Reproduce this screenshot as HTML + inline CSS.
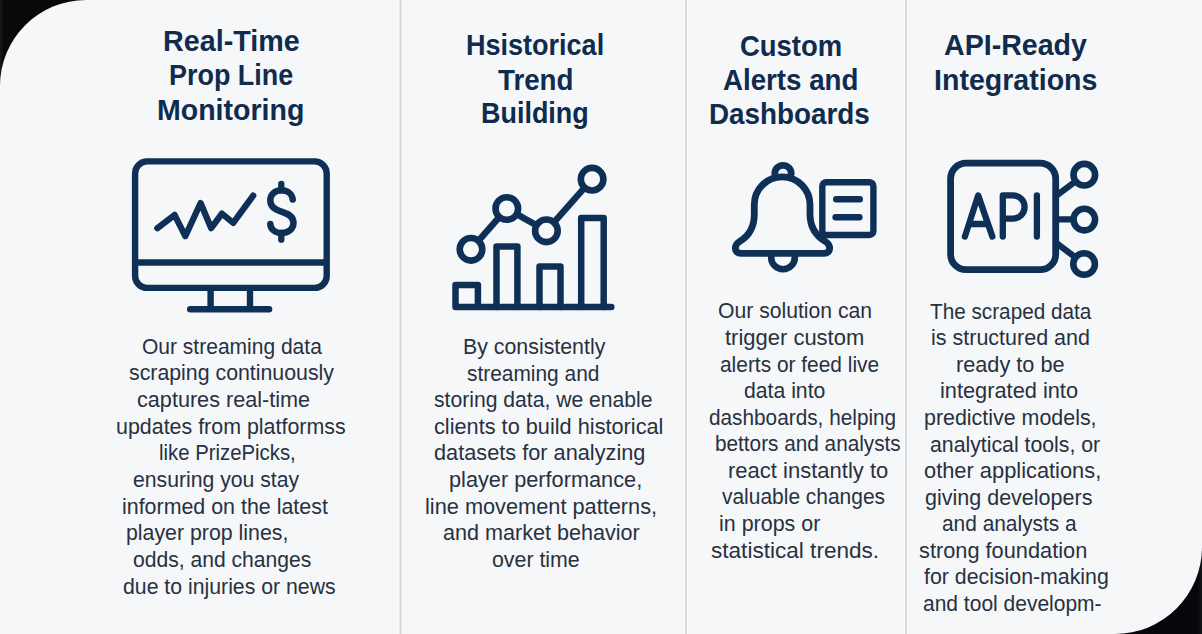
<!DOCTYPE html>
<html><head><meta charset="utf-8"><style>
html,body{margin:0;padding:0;background:#05070a;}
#w{position:relative;width:1202px;height:634px;overflow:hidden;background:linear-gradient(to right,#17191c 0px,#07090b 4px,#05070a 1197px,#101316 1202px);}
#p{position:absolute;left:0;top:0;width:1202px;height:634px;background:#f6f7f9;border-radius:86px 0 87px 0;}
.d{position:absolute;top:0;width:1px;height:634px;background:#d9dadd;}
.t{position:absolute;font-family:"Liberation Sans",sans-serif;line-height:1;white-space:pre;transform-origin:0 0;}
</style></head><body><div id="w"><div id="p"></div>
<div class="d" style="left:398px;background:#fbfbfc"></div><div class="d" style="left:399px;background:#e6e7e9"></div><div class="d" style="left:400px;background:#d5d6d8"></div><div class="d" style="left:401px;background:#e7e8ea"></div>
<div class="d" style="left:684px;background:#fbfcfc"></div><div class="d" style="left:685px;background:#dadbdd"></div><div class="d" style="left:686px;background:#d7d8da"></div><div class="d" style="left:687px;background:#fbfcfc"></div>
<div class="d" style="left:904px;background:#fbfcfc"></div><div class="d" style="left:905px;background:#dcdddf"></div><div class="d" style="left:906px;background:#d8d9db"></div><div class="d" style="left:907px;background:#fafbfb"></div>
<svg width="1202" height="634" viewBox="0 0 1202 634" style="position:absolute;left:0;top:0" fill="none" stroke="#0e3056" stroke-linecap="round" stroke-linejoin="round">
<!-- monitor -->
<rect x="135.1" y="161.4" width="191.6" height="126.5" rx="12" stroke-width="6.4"/>
<line x1="135.1" y1="262.4" x2="326.7" y2="262.4" stroke-width="6.5" stroke-linecap="butt"/>
<line x1="210.6" y1="288" x2="210.6" y2="309" stroke-width="6.4" stroke-linecap="butt"/>
<line x1="250" y1="288" x2="250" y2="309" stroke-width="6.4" stroke-linecap="butt"/>
<line x1="190.2" y1="309.3" x2="269.1" y2="309.3" stroke-width="6.4"/>
<polyline points="157.3,228.2 174.6,214.9 185.3,236.2 200.6,203 211.2,228.2 221.9,213.6 233.2,222.9 253.2,195.6" stroke-width="6.3"/>
<path d="M292.7,199.5 C292.2,193.8 287.3,190.3 281.3,190.3 C275,190.3 270.3,194.5 270.3,200.5 C270.3,207.5 276,210 281.3,211.6 C287.5,213.5 293.5,216 293.5,222.8 C293.5,229 288.3,233 281.3,233 C275,233 270.5,229 270.3,224" stroke-width="6.5"/>
<line x1="281.3" y1="184" x2="281.3" y2="190.3" stroke-width="6.3"/>
<line x1="281.3" y1="233" x2="281.3" y2="239.7" stroke-width="6.3"/>
<!-- chart -->
<path d="M477.9,307 L477.9,285.1 L455.5,285.1 L455.5,307 L611.3,307" stroke-width="6.5"/>
<path d="M496.5,307 L496.5,246.4 L517.4,246.4 L517.4,307" stroke-width="6.5"/>
<path d="M539.5,307 L539.5,266.4 L560.5,266.4 L560.5,307" stroke-width="6.5"/>
<path d="M581.2,307 L581.2,218 L603.7,218 L603.7,307" stroke-width="6.5"/>
<polyline points="471,249.3 506.8,208.5 546.4,230.8 592.1,179.2" stroke-width="6.5"/>
<g fill="#f6f7f9" stroke-width="6.6">
<circle cx="471" cy="249.3" r="11.3"/><circle cx="506.8" cy="208.5" r="11.3"/><circle cx="546.4" cy="230.8" r="11.3"/><circle cx="592.1" cy="179.2" r="11.3"/>
</g>
<!-- bell -->
<path d="M774.8,173.5 A8.2,8.2 0 0 1 791.2,173.5" stroke-width="6.8"/>
<path d="M754.3,204.7 A27.85,27.85 0 0 1 810,204.7 L810,214 C810,228 816,236 825.5,241.5 C831,245 831.5,253.4 824,253.4 L741,253.4 C733.5,253.4 734,245 739.5,241.5 C749,236 754.3,228 754.3,214 Z" stroke-width="6.8"/>
<path d="M771.2,253.4 L771.2,257.4 A11.8,11.8 0 0 0 794.8,257.4 L794.8,253.4" stroke-width="6.6"/>
<rect x="822.3" y="182.2" width="51.1" height="52.8" rx="4" stroke-width="6.4"/>
<line x1="836.2" y1="199.3" x2="859.8" y2="199.3" stroke-width="6.4"/>
<line x1="835.6" y1="217.3" x2="859.4" y2="217.3" stroke-width="6.4"/>
<!-- api -->
<rect x="950.6" y="163.2" width="105.1" height="106.5" rx="15.5" stroke-width="6.8"/>
<polyline points="964.9,236.6 978.2,195.4 992.4,236.6" stroke-width="6.3"/>
<line x1="970" y1="224" x2="987" y2="224" stroke-width="6.3"/>
<path d="M1002.8,236.6 L1002.8,195.4 L1013,195.4 A11.6,11.6 0 0 1 1013,218.6 L1002.8,218.6" stroke-width="6.3"/>
<line x1="1036.9" y1="195.4" x2="1036.9" y2="236.6" stroke-width="6.3"/>
<line x1="1056" y1="196" x2="1084.3" y2="174.7" stroke-width="6.3"/>
<line x1="1056" y1="219.4" x2="1084.3" y2="219.4" stroke-width="6.3"/>
<line x1="1056" y1="242.8" x2="1084.2" y2="264" stroke-width="6.3"/>
<g fill="#f6f7f9" stroke-width="6.6">
<circle cx="1084.3" cy="174.7" r="10.8"/><circle cx="1084.3" cy="219.6" r="10.8"/><circle cx="1084.1" cy="264" r="10.8"/>
</g>
</svg>
<div class="t" style="left:162.55px;top:26.00px;font-size:29.5px;font-weight:700;color:#0f2b4d;transform:scaleX(0.9731)">Real-Time</div>
<div class="t" style="left:169.47px;top:60.00px;font-size:29.5px;font-weight:700;color:#0f2b4d;transform:scaleX(0.9135)">Prop Line</div>
<div class="t" style="left:156.77px;top:95.00px;font-size:29.5px;font-weight:700;color:#0f2b4d;transform:scaleX(0.9670)">Monitoring</div>
<div class="t" style="left:465.77px;top:30.00px;font-size:29.5px;font-weight:700;color:#0f2b4d;transform:scaleX(0.9158)">Hsistorical</div>
<div class="t" style="left:497.67px;top:65.00px;font-size:29.5px;font-weight:700;color:#0f2b4d;transform:scaleX(0.9397)">Trend</div>
<div class="t" style="left:481.47px;top:98.00px;font-size:29.5px;font-weight:700;color:#0f2b4d;transform:scaleX(0.9132)">Building</div>
<div class="t" style="left:739.84px;top:31.00px;font-size:29.5px;font-weight:700;color:#0f2b4d;transform:scaleX(0.9302)">Custom</div>
<div class="t" style="left:723.20px;top:65.00px;font-size:29.5px;font-weight:700;color:#0f2b4d;transform:scaleX(0.9385)">Alerts and</div>
<div class="t" style="left:709.41px;top:99.00px;font-size:29.5px;font-weight:700;color:#0f2b4d;transform:scaleX(0.9429)">Dashboards</div>
<div class="t" style="left:943.77px;top:30.00px;font-size:29.5px;font-weight:700;color:#0f2b4d;transform:scaleX(0.9686)">API-Ready</div>
<div class="t" style="left:933.56px;top:65.00px;font-size:29.5px;font-weight:700;color:#0f2b4d;transform:scaleX(0.9680)">Integrations</div>
<div class="t" style="left:142.25px;top:336.00px;font-size:22px;font-weight:400;color:#273141;transform:scaleX(0.9549)">Our streaming data</div>
<div class="t" style="left:129.17px;top:362.00px;font-size:22px;font-weight:400;color:#273141;transform:scaleX(0.9689)">scraping continuously</div>
<div class="t" style="left:136.62px;top:389.00px;font-size:22px;font-weight:400;color:#273141;transform:scaleX(0.9833)">captures real-time</div>
<div class="t" style="left:116.24px;top:416.00px;font-size:22px;font-weight:400;color:#273141;transform:scaleX(0.9733)">updates from platformss</div>
<div class="t" style="left:159.41px;top:442.00px;font-size:22px;font-weight:400;color:#273141;transform:scaleX(0.9246)">like PrizePicks,</div>
<div class="t" style="left:132.84px;top:469.00px;font-size:22px;font-weight:400;color:#273141;transform:scaleX(0.9635)">ensuring you stay</div>
<div class="t" style="left:121.74px;top:496.00px;font-size:22px;font-weight:400;color:#273141;transform:scaleX(0.9729)">informed on the latest</div>
<div class="t" style="left:126.25px;top:522.00px;font-size:22px;font-weight:400;color:#273141;transform:scaleX(0.9689)">player prop lines,</div>
<div class="t" style="left:133.34px;top:549.00px;font-size:22px;font-weight:400;color:#273141;transform:scaleX(0.9590)">odds, and changes</div>
<div class="t" style="left:123.43px;top:576.00px;font-size:22px;font-weight:400;color:#273141;transform:scaleX(0.9659)">due to injuries or news</div>
<div class="t" style="left:463.30px;top:336.00px;font-size:22px;font-weight:400;color:#273141;transform:scaleX(0.9699)">By consistently</div>
<div class="t" style="left:466.59px;top:363.00px;font-size:22px;font-weight:400;color:#273141;transform:scaleX(0.9494)">streaming and</div>
<div class="t" style="left:433.98px;top:389.00px;font-size:22px;font-weight:400;color:#273141;transform:scaleX(0.9604)">storing data, we enable</div>
<div class="t" style="left:433.71px;top:416.00px;font-size:22px;font-weight:400;color:#273141;transform:scaleX(0.9876)">clients to build historical</div>
<div class="t" style="left:433.71px;top:442.00px;font-size:22px;font-weight:400;color:#273141;transform:scaleX(0.9877)">datasets for analyzing</div>
<div class="t" style="left:448.92px;top:469.00px;font-size:22px;font-weight:400;color:#273141;transform:scaleX(0.9873)">player performance,</div>
<div class="t" style="left:424.72px;top:496.00px;font-size:22px;font-weight:400;color:#273141;transform:scaleX(0.9885)">line movement patterns,</div>
<div class="t" style="left:442.72px;top:522.00px;font-size:22px;font-weight:400;color:#273141;transform:scaleX(0.9807)">and market behavior</div>
<div class="t" style="left:491.73px;top:549.00px;font-size:22px;font-weight:400;color:#273141;transform:scaleX(0.9695)">over time</div>
<div class="t" style="left:717.94px;top:300.00px;font-size:22px;font-weight:400;color:#273141;transform:scaleX(0.9616)">Our solution can</div>
<div class="t" style="left:724.55px;top:327.00px;font-size:22px;font-weight:400;color:#273141;transform:scaleX(0.9989)">trigger custom</div>
<div class="t" style="left:720.15px;top:354.00px;font-size:22px;font-weight:400;color:#273141;transform:scaleX(0.9498)">alerts or feed live</div>
<div class="t" style="left:743.74px;top:380.00px;font-size:22px;font-weight:400;color:#273141;transform:scaleX(0.9636)">data into</div>
<div class="t" style="left:709.06px;top:407.00px;font-size:22px;font-weight:400;color:#273141;transform:scaleX(0.9446)">dashboards, helping</div>
<div class="t" style="left:715.38px;top:433.00px;font-size:22px;font-weight:400;color:#273141;transform:scaleX(0.9434)">bettors and analysts</div>
<div class="t" style="left:727.80px;top:460.00px;font-size:22px;font-weight:400;color:#273141;transform:scaleX(1.0003)">react instantly to</div>
<div class="t" style="left:721.96px;top:486.00px;font-size:22px;font-weight:400;color:#273141;transform:scaleX(0.9521)">valuable changes</div>
<div class="t" style="left:719.04px;top:513.00px;font-size:22px;font-weight:400;color:#273141;transform:scaleX(0.9745)">in props or</div>
<div class="t" style="left:711.23px;top:540.00px;font-size:22px;font-weight:400;color:#273141;transform:scaleX(1.0261)">statistical trends.</div>
<div class="t" style="left:929.63px;top:301.00px;font-size:22px;font-weight:400;color:#273141;transform:scaleX(0.9423)">The scraped data</div>
<div class="t" style="left:931.03px;top:327.00px;font-size:22px;font-weight:400;color:#273141;transform:scaleX(0.9772)">is structured and</div>
<div class="t" style="left:955.82px;top:354.00px;font-size:22px;font-weight:400;color:#273141;transform:scaleX(0.9860)">ready to be</div>
<div class="t" style="left:940.42px;top:380.00px;font-size:22px;font-weight:400;color:#273141;transform:scaleX(0.9898)">integrated into</div>
<div class="t" style="left:923.94px;top:407.00px;font-size:22px;font-weight:400;color:#273141;transform:scaleX(0.9732)">predictive models,</div>
<div class="t" style="left:929.53px;top:434.00px;font-size:22px;font-weight:400;color:#273141;transform:scaleX(0.9665)">analytical tools, or</div>
<div class="t" style="left:924.21px;top:460.00px;font-size:22px;font-weight:400;color:#273141;transform:scaleX(0.9926)">other applications,</div>
<div class="t" style="left:924.82px;top:487.00px;font-size:22px;font-weight:400;color:#273141;transform:scaleX(0.9776)">giving developers</div>
<div class="t" style="left:942.15px;top:513.00px;font-size:22px;font-weight:400;color:#273141;transform:scaleX(0.9492)">and analysts a</div>
<div class="t" style="left:919.36px;top:540.00px;font-size:22px;font-weight:400;color:#273141;transform:scaleX(0.9896)">strong foundation</div>
<div class="t" style="left:923.96px;top:566.00px;font-size:22px;font-weight:400;color:#273141;transform:scaleX(0.9688)">for decision-making</div>
<div class="t" style="left:923.25px;top:593.00px;font-size:22px;font-weight:400;color:#273141;transform:scaleX(0.9544)">and tool developm-</div>
</div></body></html>
